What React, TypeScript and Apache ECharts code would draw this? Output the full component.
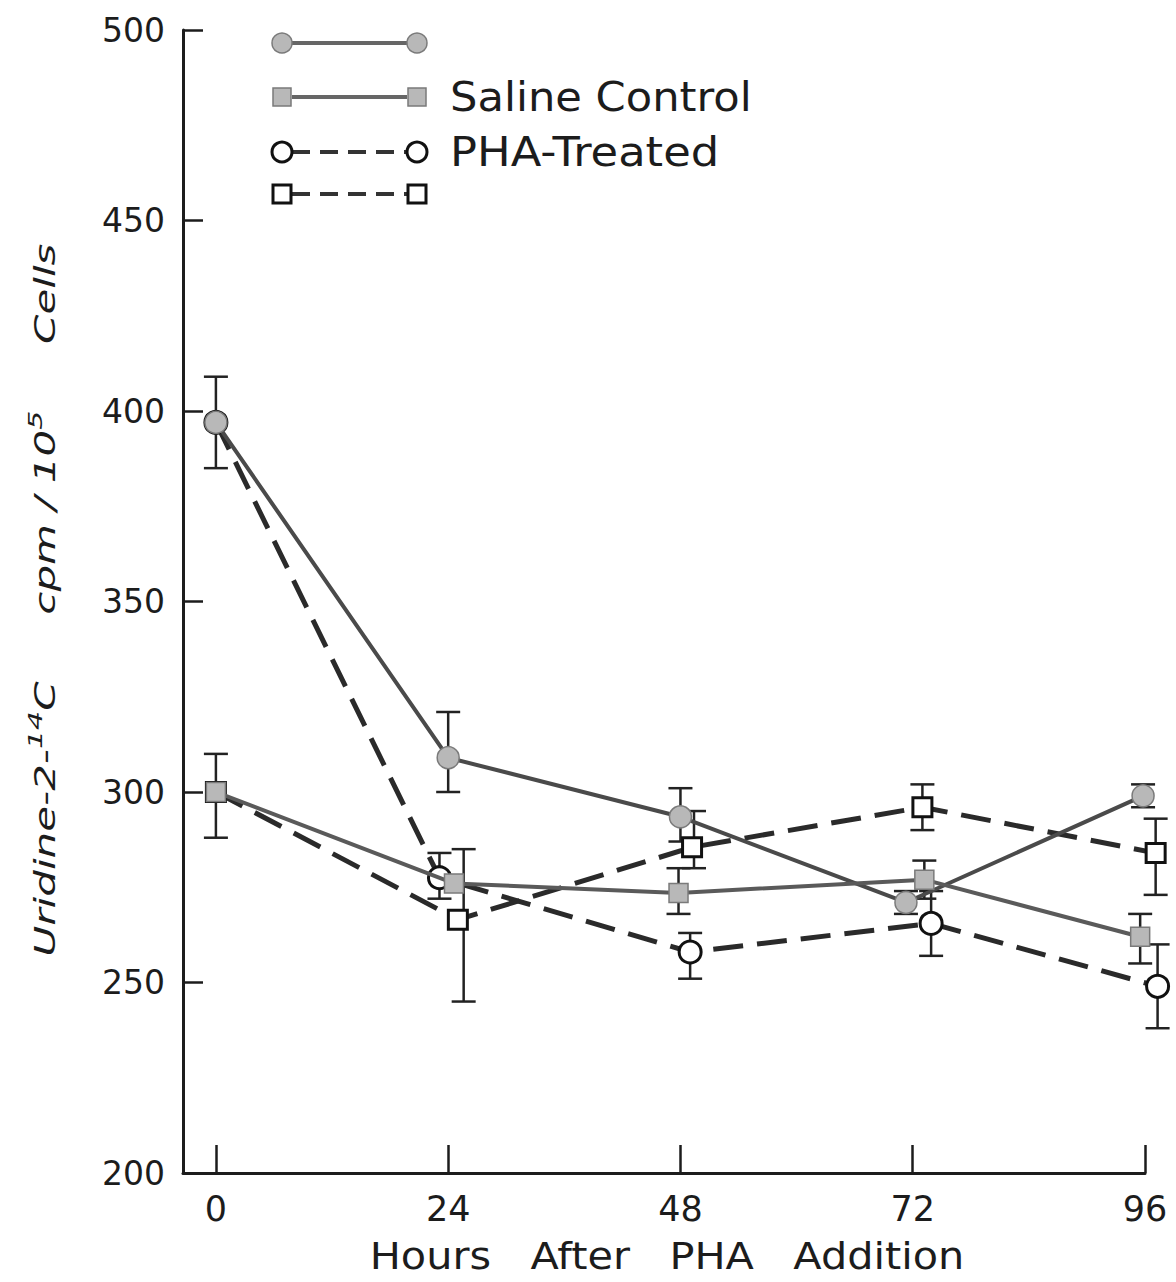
import React, { useEffect, useRef } from "react";
import * as echarts from "echarts";

// ---- data ----
const hourTicks = [0, 24, 48, 72, 96];
const yTicks = [200, 250, 300, 350, 400, 450, 500];

// Saline control, circles (filled, solid)
const salineCircleX = [0, 24, 48, 71.3, 95.8];
const salineCircleY = [397, 309, 293.5, 271, 299];
const salineCircleErr: [number, number, number][] = [
  [0, 385, 409],
  [24, 300, 321],
  [48, 287, 301],
  [71.3, 268, 274],
  [95.8, 296, 302],
];

// Saline control, squares (filled, solid)
const salineSquareX = [0, 24.6, 47.8, 73.2, 95.5];
const salineSquareY = [300, 276, 273.5, 277, 262];
const salineSquareErr: [number, number, number][] = [
  [0, 288, 310],
  [47.8, 268, 280],
  [73.2, 272, 282],
  [95.5, 255, 268],
];

// PHA-treated, circles (open, dashed)
const phaCircleX = [0, 23.1, 49, 73.9, 97.3];
const phaCircleY = [397, 277.5, 258, 265.5, 249];
const phaCircleErr: [number, number, number][] = [
  [23.1, 272, 284],
  [49, 251, 263],
  [73.9, 257, 274],
  [97.3, 238, 260],
];

// PHA-treated, squares (open, dashed)
const phaSquareX = [0, 25, 49.2, 73, 97.1];
const phaSquareY = [300, 266.5, 285.5, 296, 284];
const phaSquareErr: [number, number, number][] = [
  [25.6, 245, 285],
  [49.4, 280, 295],
  [73, 290, 302],
  [97.1, 273, 293],
];

const FONT = "'DejaVu Sans', sans-serif";
const INK = "#1c1c1c";

function zip(xs: number[], ys: number[]) {
  return xs.map((x, i) => [x, ys[i]]);
}

function errorSeries(data: [number, number, number][]) {
  return {
    type: "custom",
    z: 1,
    silent: true,
    data,
    encode: { x: 0, y: [1, 2] },
    renderItem: (_params: any, api: any) => {
      const x = api.value(0);
      const lo = api.coord([x, api.value(1)]);
      const hi = api.coord([x, api.value(2)]);
      const w = 12;
      const style = { stroke: "#222", lineWidth: 2.5 };
      return {
        type: "group",
        children: [
          { type: "line", shape: { x1: lo[0], y1: lo[1], x2: hi[0], y2: hi[1] }, style },
          { type: "line", shape: { x1: lo[0] - w, y1: lo[1], x2: lo[0] + w, y2: lo[1] }, style },
          { type: "line", shape: { x1: hi[0] - w, y1: hi[1], x2: hi[0] + w, y2: hi[1] }, style },
        ],
      };
    },
  };
}

const filledMarker = { color: "#b8b8b8", borderColor: "#7a7a7a", borderWidth: 1.5 };
const openMarker = { color: "#ffffff", borderColor: "#111111", borderWidth: 3 };

export default function App() {
  const ref = useRef<HTMLDivElement>(null);

  useEffect(() => {
    document.body.style.margin = "0";
    if (!ref.current) return;
    const chart = echarts.init(ref.current, undefined, { renderer: "svg" });

    const legendRows = [
      { y: 43, symbol: "circle", filled: true, dashed: false },
      { y: 97, symbol: "rect", filled: true, dashed: false },
      { y: 152, symbol: "circle", filled: false, dashed: true },
      { y: 194, symbol: "rect", filled: false, dashed: true },
    ];
    const legendGraphics: any[] = [];
    legendRows.forEach((r) => {
      legendGraphics.push({
        type: "line",
        shape: { x1: 292, y1: r.y, x2: 407, y2: r.y },
        style: {
          stroke: r.dashed ? "#333" : "#666",
          lineWidth: 4,
          lineDash: r.dashed ? [18, 10] : null,
        },
        z: 10,
      });
      [282, 417].forEach((cx) => {
        const st = r.filled
          ? { fill: "#b8b8b8", stroke: "#7a7a7a", lineWidth: 1.5 }
          : { fill: "#fff", stroke: "#111", lineWidth: 3 };
        if (r.symbol === "circle") {
          legendGraphics.push({ type: "circle", shape: { cx, cy: r.y, r: 10 }, style: st, z: 11 });
        } else {
          legendGraphics.push({
            type: "rect",
            shape: { x: cx - 9, y: r.y - 9, width: 18, height: 18 },
            style: st,
            z: 11,
          });
        }
      });
    });

    chart.setOption({
      animation: false,
      backgroundColor: "#ffffff",
      grid: { left: 183, right: 31, top: 30, bottom: 109, containLabel: false },
      xAxis: {
        type: "value",
        min: -3.4,
        max: 96,
        axisLine: { show: true, onZero: false, lineStyle: { color: INK, width: 3 } },
        axisTick: {
          show: true,
          inside: true,
          length: 28,
          customValues: hourTicks,
          lineStyle: { color: INK, width: 2.5 },
        },
        axisLabel: {
          customValues: hourTicks,
          fontSize: 35,
          fontFamily: FONT,
          color: INK,
          margin: 18,
        },
        splitLine: { show: false },
      },
      yAxis: {
        type: "value",
        min: 200,
        max: 500,
        interval: 50,
        axisLine: { show: true, onZero: false, lineStyle: { color: INK, width: 3 } },
        axisTick: { show: true, inside: true, length: 20, lineStyle: { color: INK, width: 2.5 } },
        axisLabel: {
          fontSize: 33,
          fontFamily: FONT,
          color: INK,
          margin: 18,
          formatter: (v: number) => (yTicks.includes(v) ? String(v) : ""),
        },
        splitLine: { show: false },
      },
      graphic: [
        ...legendGraphics,
        {
          type: "text",
          x: 450,
          y: 97,
          scaleX: 1.08,
          style: {
            text: "Saline Control",
            fontSize: 40,
            fontFamily: FONT,
            fill: INK,
            align: "left",
            verticalAlign: "middle",
          },
          z: 12,
        },
        {
          type: "text",
          x: 450,
          y: 152,
          scaleX: 1.12,
          style: {
            text: "PHA-Treated",
            fontSize: 40,
            fontFamily: FONT,
            fill: INK,
            align: "left",
            verticalAlign: "middle",
          },
          z: 12,
        },
        {
          type: "text",
          x: 667,
          y: 1256,
          scaleX: 1.09,
          style: {
            text: "Hours   After   PHA   Addition",
            fontSize: 38,
            fontFamily: FONT,
            fill: INK,
            align: "center",
            verticalAlign: "middle",
          },
          z: 12,
        },
        {
          type: "text",
          x: 45,
          y: 600,
          rotation: Math.PI / 2,
          scaleX: 1.5,
          style: {
            text: "Uridine-2-{sup|14}C     cpm / 10{sup|5}     Cells",
            fontSize: 28,
            fontStyle: "italic",
            fontFamily: FONT,
            fill: INK,
            align: "center",
            verticalAlign: "middle",
            lineHeight: 40,
            rich: {
              sup: {
                fontSize: 20,
                fontStyle: "italic",
                fontFamily: FONT,
                fill: INK,
                verticalAlign: "top",
                lineHeight: 20,
              },
            },
          },
          z: 12,
        },
      ],
      series: [
        errorSeries(phaCircleErr),
        errorSeries(phaSquareErr),
        errorSeries(salineCircleErr),
        errorSeries(salineSquareErr),
        {
          name: "PHA-Treated (circles)",
          type: "line",
          z: 3,
          clip: false,
          data: zip(phaCircleX, phaCircleY),
          symbol: "circle",
          symbolSize: 22,
          showAllSymbol: true,
          itemStyle: openMarker,
          lineStyle: { color: "#2a2a2a", width: 5, type: [30, 14] },
        },
        {
          name: "PHA-Treated (squares)",
          type: "line",
          z: 3,
          clip: false,
          data: zip(phaSquareX, phaSquareY),
          symbol: "rect",
          symbolSize: 19,
          itemStyle: openMarker,
          lineStyle: { color: "#2a2a2a", width: 5, type: [30, 14] },
        },
        {
          name: "Saline Control (circles)",
          type: "line",
          z: 4,
          clip: false,
          data: zip(salineCircleX, salineCircleY),
          symbol: "circle",
          symbolSize: 22,
          itemStyle: filledMarker,
          lineStyle: { color: "#4a4a4a", width: 4 },
        },
        {
          name: "Saline Control (squares)",
          type: "line",
          z: 4,
          clip: false,
          data: zip(salineSquareX, salineSquareY),
          symbol: "rect",
          symbolSize: 19,
          itemStyle: filledMarker,
          lineStyle: { color: "#5a5a5a", width: 4 },
        },
      ],
    });

    return () => chart.dispose();
  }, []);

  return <div ref={ref} style={{ width: 1176, height: 1282 }} />;
}
